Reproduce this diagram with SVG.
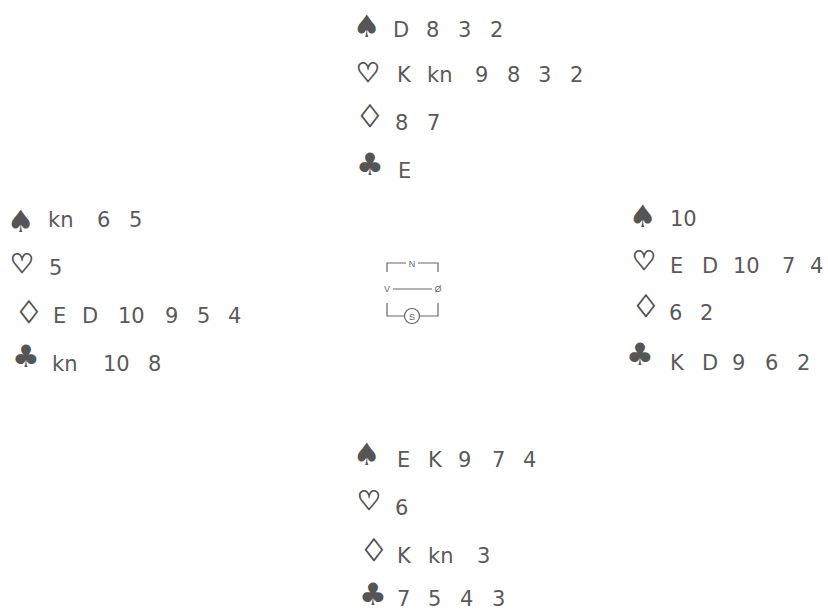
<svg xmlns="http://www.w3.org/2000/svg" width="828" height="611" viewBox="0 0 828 611">
<style>
.t{font-family:"DejaVu Sans","Liberation Sans",sans-serif;font-size:21px;fill:#5a5a5a}
.s{font-family:"DejaVu Sans",sans-serif;font-size:31px;fill:#555;text-anchor:middle}
.h{font-size:27px}
.o{stroke:#555;stroke-width:0.9}
.c{font-family:"Liberation Sans",sans-serif;font-size:9px;fill:#666;text-anchor:middle}
.l{stroke:#666;stroke-width:1.2;fill:none}
</style>
<rect width="828" height="611" fill="#fff"/>
<g id="north">
<text class="s" x="367" y="37">♠</text>
<text class="s h o" x="368" y="82">♡</text>
<text class="s o" x="370" y="127">♢</text>
<text class="s" x="370" y="175">♣</text>
<text class="t" y="37"><tspan x="393">D</tspan><tspan x="426">8</tspan><tspan x="458">3</tspan><tspan x="490">2</tspan></text>
<text class="t" y="82"><tspan x="397">K</tspan><tspan x="427">kn</tspan><tspan x="475">9</tspan><tspan x="507">8</tspan><tspan x="538">3</tspan><tspan x="570">2</tspan></text>
<text class="t" y="130"><tspan x="395">8</tspan><tspan x="427">7</tspan></text>
<text class="t" y="178"><tspan x="398">E</tspan></text>
</g>
<g id="west">
<text class="s" x="21" y="232">♠</text>
<text class="s h o" x="22" y="273">♡</text>
<text class="s o" x="29" y="323">♢</text>
<text class="s" x="26" y="367">♣</text>
<text class="t" y="227"><tspan x="48">kn</tspan><tspan x="97">6</tspan><tspan x="129">5</tspan></text>
<text class="t" y="275"><tspan x="49">5</tspan></text>
<text class="t" y="323"><tspan x="53">E</tspan><tspan x="82">D</tspan><tspan x="118">10</tspan><tspan x="165">9</tspan><tspan x="197">5</tspan><tspan x="228">4</tspan></text>
<text class="t" y="371"><tspan x="52">kn</tspan><tspan x="103">10</tspan><tspan x="148">8</tspan></text>
</g>
<g id="east">
<text class="s" x="643" y="227">♠</text>
<text class="s h o" x="644" y="270">♡</text>
<text class="s o" x="646" y="317">♢</text>
<text class="s" x="640" y="365">♣</text>
<text class="t" y="226"><tspan x="670">10</tspan></text>
<text class="t" y="273"><tspan x="670">E</tspan><tspan x="702">D</tspan><tspan x="733">10</tspan><tspan x="782">7</tspan><tspan x="810">4</tspan></text>
<text class="t" y="320"><tspan x="669">6</tspan><tspan x="700">2</tspan></text>
<text class="t" y="370"><tspan x="670">K</tspan><tspan x="702">D</tspan><tspan x="732">9</tspan><tspan x="765">6</tspan><tspan x="797">2</tspan></text>
</g>
<g id="south">
<text class="s" x="367" y="465">♠</text>
<text class="s h o" x="369" y="510">♡</text>
<text class="s o" x="374" y="561">♢</text>
<text class="s" x="373" y="605">♣</text>
<text class="t" y="467"><tspan x="397">E</tspan><tspan x="428">K</tspan><tspan x="458">9</tspan><tspan x="492">7</tspan><tspan x="523">4</tspan></text>
<text class="t" y="515"><tspan x="395">6</tspan></text>
<text class="t" y="563"><tspan x="397">K</tspan><tspan x="428">kn</tspan><tspan x="477">3</tspan></text>
<text class="t" y="606"><tspan x="397">7</tspan><tspan x="428">5</tspan><tspan x="460">4</tspan><tspan x="492">3</tspan></text>
</g>
<g id="compass">
<path class="l" d="M387,272 V263 H406 M418,263 H438 V272"/>
<path class="l" d="M393,289 H432"/>
<path class="l" d="M387,303 V316 H404 M420,316 H438 V303"/>
<circle class="l" cx="412" cy="316" r="7.5"/>
<text class="c" x="412" y="266.5">N</text>
<text class="c" x="387" y="292">V</text>
<text class="c" x="438" y="292">Ø</text>
<text class="c" x="412" y="319.5">S</text>
</g>
</svg>
